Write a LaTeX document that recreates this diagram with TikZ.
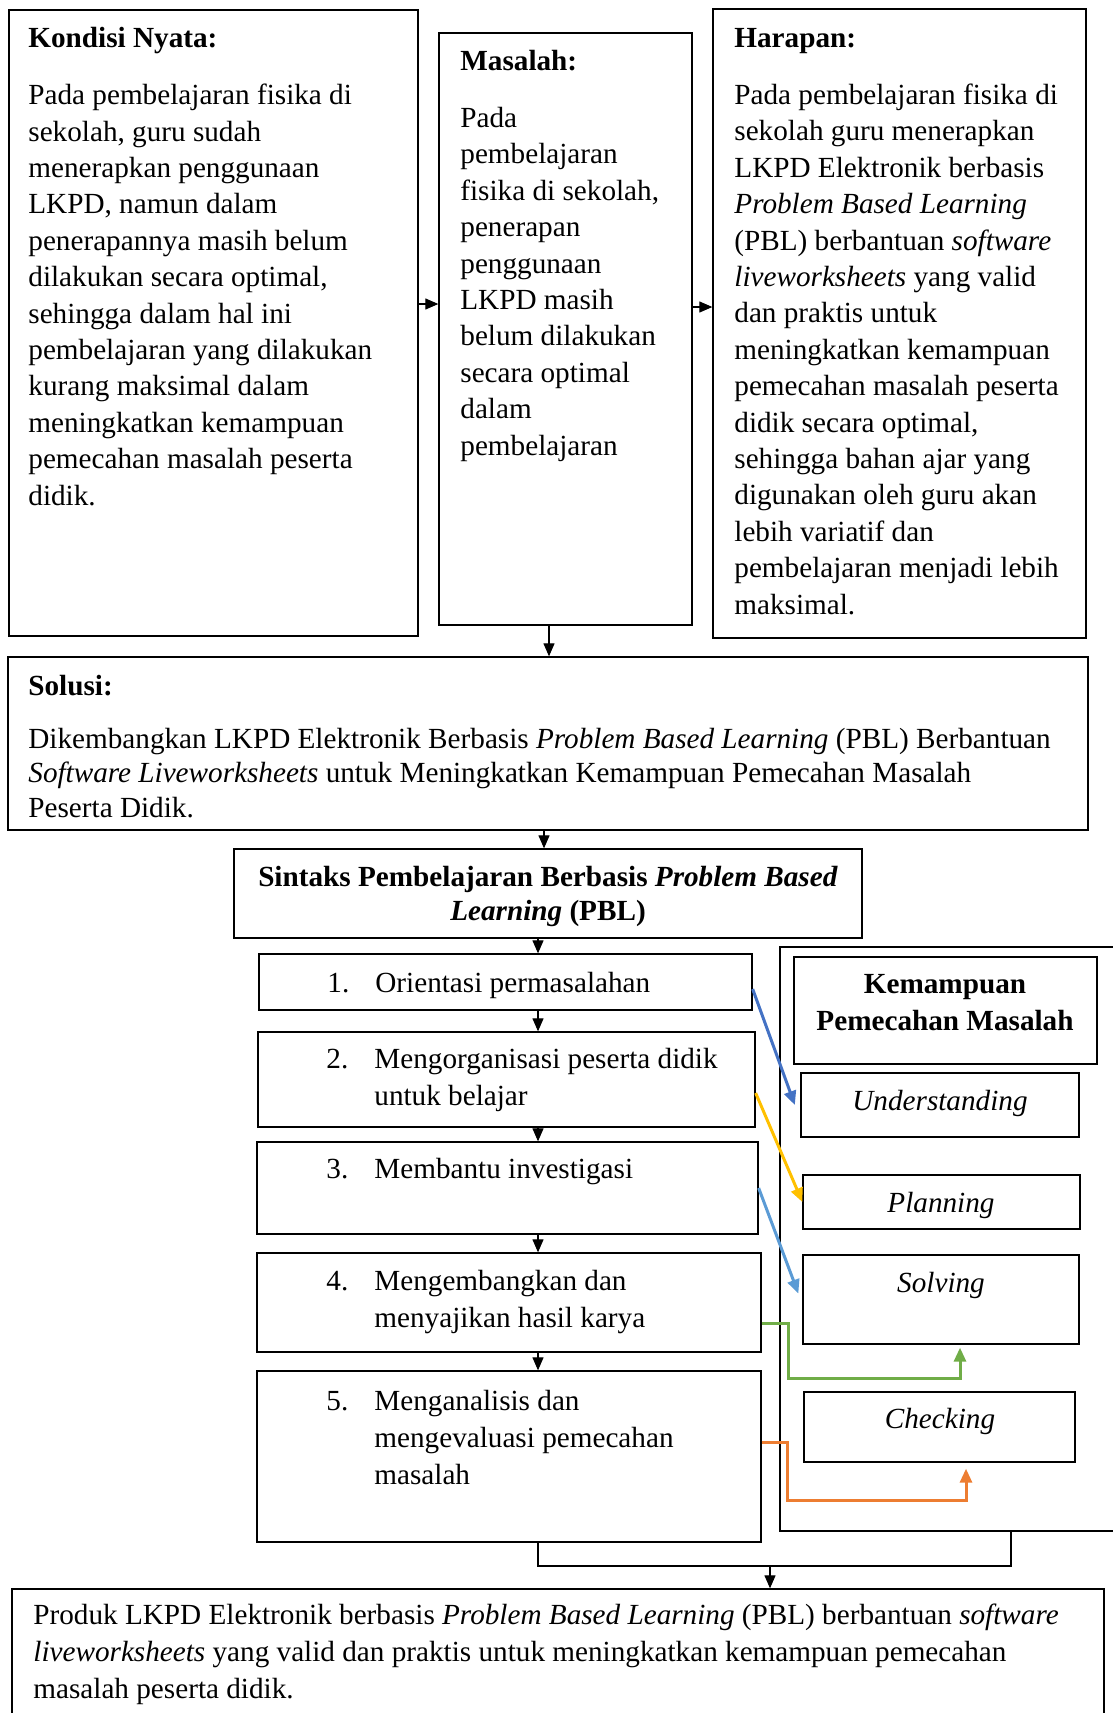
\documentclass[tikz,border=0pt]{standalone}
\usepackage{fontspec}
\setmainfont{Liberation Serif}
\usetikzlibrary{arrows.meta,fit}

\definecolor{biru}{HTML}{4472C4}
\definecolor{kuning}{HTML}{FFC000}
\definecolor{birumuda}{HTML}{5B9BD5}
\definecolor{hijau}{HTML}{70AD47}
\definecolor{oranye}{HTML}{ED7D31}

\newcommand{\nomor}[1]{\makebox[24pt][l]{#1}}
\newcommand{\lanjut}{\hspace*{24pt}}

\begin{document}
\begin{tikzpicture}[x=0.5pt, y=-0.5pt,
  kotak/.style = {draw, line width=0.65pt, inner sep=0pt},
  teks/.style = {inner sep=0pt, align=left, font=\fontsize{14.6}{18.2}\selectfont},
  tebal/.style = {teks, font=\fontsize{14.6}{18.2}\selectfont\bfseries},
  panah/.style = {-{Triangle[length=6.5pt,width=5.5pt]}, line width=0.55pt},
  warna/.style = {-{Triangle[length=7pt,width=6pt]}, line width=1.5pt, draw=#1}]
  \useasboundingbox (0,0) rectangle (1113,1713);
  \clip (0,0) rectangle (1113,1713);

  % baris atas (teks diletakkan pada baseline baris terakhir)
  \node[kotak, fit={(9,10) (418,636)}] (kondisi) {};
  \node[kotak, fit={(439,33) (692,625)}] (masalah) {};
  \node[kotak, fit={(713,9) (1086,638)}] (harapan) {};

  \node[tebal, anchor=base west] (kondisiJudul) at (28,47) {Kondisi Nyata:};
  \node[teks, anchor=base west] (kondisiIsi) at (28,505) {Pada pembelajaran fisika di\\ sekolah, guru sudah\\ menerapkan penggunaan\\ LKPD, namun dalam\\ penerapannya masih belum\\ dilakukan secara optimal,\\ sehingga dalam hal ini\\ pembelajaran yang dilakukan\\ kurang maksimal dalam\\ meningkatkan kemampuan\\ pemecahan masalah peserta\\ didik.};
  \node[tebal, anchor=base west] (masalahJudul) at (460,70) {Masalah:};
  \node[teks, anchor=base west] (masalahIsi) at (460,455) {Pada\\ pembelajaran\\ fisika di sekolah,\\ penerapan\\ penggunaan\\ LKPD masih\\ belum dilakukan\\ secara optimal\\ dalam\\ pembelajaran};
  \node[tebal, anchor=base west] (harapanJudul) at (734,47) {Harapan:};
  \node[teks, anchor=base west] (harapanIsi) at (734,614) {Pada pembelajaran fisika di\\ sekolah guru menerapkan\\ LKPD Elektronik berbasis\\ \textit{Problem Based Learning}\\ (PBL) berbantuan \textit{software}\\ \textit{liveworksheets} yang valid\\ dan praktis untuk\\ meningkatkan kemampuan\\ pemecahan masalah peserta\\ didik secara optimal,\\ sehingga bahan ajar yang\\ digunakan oleh guru akan\\ lebih variatif dan\\ pembelajaran menjadi lebih\\ maksimal.};

  % solusi dan sintaks
  \node[kotak, fit={(8,657) (1088,830)}] (solusi) {};
  \node[tebal, anchor=base west] (solusiJudul) at (28,695) {Solusi:};
  \node[teks, anchor=base west, font=\fontsize{14.6}{17.2}\selectfont] (solusiIsi) at (28,817) {Dikembangkan LKPD Elektronik Berbasis \textit{Problem Based Learning} (PBL) Berbantuan\\ \textit{Software Liveworksheets} untuk Meningkatkan Kemampuan Pemecahan Masalah\\ Peserta Didik.};

  \node[kotak, fit={(234,849) (862,938)}] (sintaks) {};
  \node[tebal, align=center, anchor=base, font=\fontsize{14.6}{16.6}\selectfont\bfseries] (sintaksJudul) at (548,920) {Sintaks Pembelajaran Berbasis \textit{Problem Based}\\ \textit{Learning} (PBL)};

  % langkah PBL
  \node[kotak, fit={(259,954) (752,1010)}] (langkah1) {};
  \node[kotak, fit={(258,1032) (755,1127)}] (langkah2) {};
  \node[kotak, fit={(257,1142) (758,1234)}] (langkah3) {};
  \node[kotak, fit={(257,1253) (761,1352)}] (langkah4) {};
  \node[kotak, fit={(257,1371) (761,1542)}] (langkah5) {};

  \tikzset{teks/.append style={font=\fontsize{14.6}{18.5}\selectfont}}
  \node[teks, anchor=base west] (langkahT1) at (327,992) {\nomor{1.}Orientasi permasalahan};
  \node[teks, anchor=base west] (langkahT2) at (326,1105) {\nomor{2.}Mengorganisasi peserta didik\\ \lanjut untuk belajar};
  \node[teks, anchor=base west] (langkahT3) at (326,1178) {\nomor{3.}Membantu investigasi};
  \node[teks, anchor=base west] (langkahT4) at (326,1327) {\nomor{4.}Mengembangkan dan\\ \lanjut menyajikan hasil karya};
  \node[teks, anchor=base west] (langkahT5) at (326,1484) {\nomor{5.}Menganalisis dan\\ \lanjut mengevaluasi pemecahan\\ \lanjut masalah};

  % kemampuan pemecahan masalah
  \node[kotak, fit={(780,947) (1242,1531)}] (wadah) {};
  \node[kotak, fit={(794,957) (1097,1064)}] (kemampuan) {};
  \node[kotak, fit={(801,1073) (1079,1137)}] (paham) {};
  \node[kotak, fit={(803,1175) (1080,1229)}] (rencana) {};
  \node[kotak, fit={(803,1255) (1079,1344)}] (selesai) {};
  \node[kotak, fit={(804,1392) (1075,1462)}] (cek) {};

  \node[tebal, align=center, anchor=base, font=\fontsize{14.6}{18.5}\selectfont\bfseries] (kemampuanT) at (945,1030) {Kemampuan\\ Pemecahan Masalah};
  \node[teks, anchor=base] (pahamT) at (940,1110) {\textit{Understanding}};
  \node[teks, anchor=base] (rencanaT) at (941,1212) {\textit{Planning}};
  \node[teks, anchor=base] (selesaiT) at (941,1292) {\textit{Solving}};
  \node[teks, anchor=base] (cekT) at (940,1428) {\textit{Checking}};

  % hasil
  \node[kotak, fit={(12,1589) (1104,1740)}] (hasil) {};
  \node[teks, anchor=base west, font=\fontsize{14.6}{18.3}\selectfont] (hasilIsi) at (33,1698) {Produk LKPD Elektronik berbasis \textit{Problem Based Learning} (PBL) berbantuan \textit{software}\\ \textit{liveworksheets} yang valid dan praktis untuk meningkatkan kemampuan pemecahan\\ masalah peserta didik.};

  % panah hitam
  \coordinate (spine) at (538,0);
  \coordinate (gabung) at (770,1566);
  \draw[panah] ([yshift=9.5pt]kondisi.east) -- ([yshift=9.5pt]kondisi.east -| masalah.west);
  \draw[panah] ([yshift=11pt]masalah.east) -- ([yshift=11pt]masalah.east -| harapan.west);
  \draw[panah] ([xshift=-8.25pt]masalah.south) -- ([xshift=-8.25pt]masalah.south |- solusi.north);
  \draw[panah] ([xshift=-2pt]solusi.south) -- ([xshift=-2pt]sintaks.north);
  \draw[panah] (sintaks.south -| spine) -- (langkah1.north -| spine);
  \foreach \a/\b in {langkah1/langkah2, langkah2/langkah3, langkah3/langkah4, langkah4/langkah5}
    \draw[panah] (\a.south -| spine) -- (\b.north -| spine);
  \draw[line width=0.55pt] (langkah5.south -| spine) |- (gabung) -| (wadah.south);
  \draw[panah] (gabung) -- (gabung |- hasil.north);

  % panah berwarna
  \draw[warna=biru] ([yshift=-3.5pt]langkah1.east) -- ([xshift=-2.75pt]paham.west);
  \draw[warna=kuning] ([yshift=-6.75pt]langkah2.east) -- (rencana.west);
  \draw[warna=birumuda] (langkah3.east) -- ([xshift=-2pt,yshift=3pt]selesai.west);
  \draw[warna=hijau] ([yshift=-10.25pt]langkah4.east) -- ++(27,0) |- ([xshift=9.5pt,yshift=-17pt]selesai.south) -- ([xshift=9.5pt,yshift=-1.5pt]selesai.south);
  \draw[warna=oranye] ([yshift=7.25pt]langkah5.east) -- ++(26,0) |- ([xshift=13.25pt,yshift=-19pt]cek.south) -- ([xshift=13.25pt,yshift=-3pt]cek.south);
\end{tikzpicture}
\end{document}
